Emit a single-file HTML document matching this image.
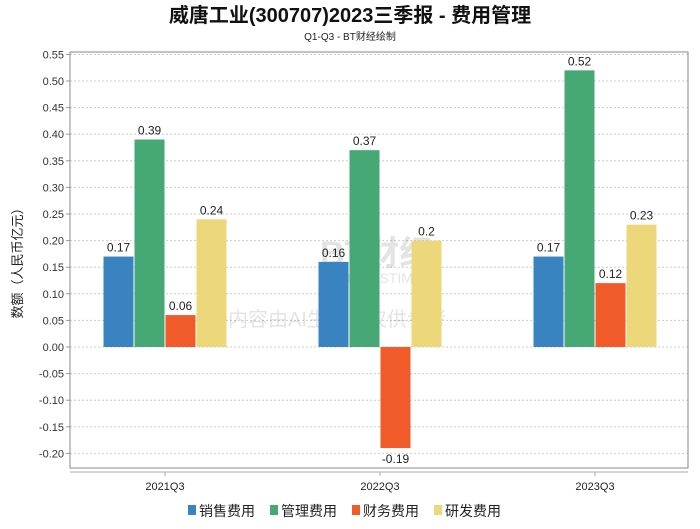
<!DOCTYPE html>
<html><head><meta charset="utf-8"><style>
body{margin:0;background:#fff;width:700px;height:524px;overflow:hidden;font-family:"Liberation Sans","Noto Sans CJK SC",sans-serif}
</style></head><body>
<svg id="c" width="700" height="524" xmlns="http://www.w3.org/2000/svg">
<text x="350" y="22" text-anchor="middle" font-size="20" font-weight="bold" fill="#111">威唐工业(300707)2023三季报 - 费用管理</text>
<text x="350" y="40" text-anchor="middle" font-size="10" fill="#222">Q1-Q3 - BT财经绘制</text>
<g id="grid"></g>
<g opacity="0.13">
<text x="320" y="265" font-size="34" font-weight="bold" fill="#333">BT财经</text>
<text x="318" y="283" font-size="14" fill="#333">BUSINESSTIMES</text>
<text x="228" y="326" font-size="20" fill="#333">内容由AI生成，仅供参考</text>
</g>
<g id="bars"></g>
<text transform="translate(22,260) rotate(-90)" text-anchor="middle" font-size="13" fill="#222">数额（人民币亿元）</text>
<g id="legend"></g>
</svg>
<script>
const categories=["2021Q3","2022Q3","2023Q3"];
const seriesNames=["销售费用","管理费用","财务费用","研发费用"];
const colors=["#3a83c1","#45a875","#f15a29","#edd77b"];
const sales=[0.17,0.16,0.17];
const admin=[0.39,0.37,0.52];
const finance=[0.06,-0.19,0.12];
const rnd=[0.24,0.2,0.23];
const labels=[["0.17","0.16","0.17"],["0.39","0.37","0.52"],["0.06","-0.19","0.12"],["0.24","0.2","0.23"]];
const yTicks=[0.55,0.5,0.45,0.4,0.35,0.3,0.25,0.2,0.15,0.1,0.05,0,-0.05,-0.1,-0.15,-0.2];
const series=[sales,admin,finance,rnd];
const NS="http://www.w3.org/2000/svg";
const L=70,R=688,T=52,B=468;
const y=v=>347-v*532;
const xc=i=>165+i*215;
function mk(tag,attrs,parent,txt){const e=document.createElementNS(NS,tag);for(const k in attrs)e.setAttribute(k,attrs[k]);if(txt!=null)e.textContent=txt;parent.appendChild(e);return e;}
const g=document.getElementById('grid');
yTicks.forEach(t=>{
  const l=mk('line',{x1:L,x2:R,y1:y(t),y2:y(t),stroke:'#ccc','stroke-dasharray':'2,2'},g);
  
  
  mk('line',{x1:L-4,x2:L,y1:y(t),y2:y(t),stroke:'#999'},g);
  const tx=mk('text',{x:L-6,y:y(t)+4,'text-anchor':'end','font-size':11,fill:'#333'},g,t.toFixed(2));
  
  
});
const fr=mk('rect',{x:L,y:T,width:R-L,height:B-T,fill:'none',stroke:'#888'},g);


mk('line',{x1:L,x2:R,y1:472,y2:472,stroke:'#aaa'},g);
categories.forEach((c,i)=>{
  mk('line',{x1:xc(i),x2:xc(i),y1:472,y2:476,stroke:'#aaa'},g);
  const tx=mk('text',{x:xc(i),y:490,'text-anchor':'middle','font-size':11,fill:'#222'},g,c);
  
  
});
const bg=document.getElementById('bars');
const bw=30,gap=1;
series.forEach((s,si)=>{
  s.forEach((v,i)=>{
    const x=xc(i)-2*(bw+gap)+si*(bw+gap)+0.5;
    const y0=Math.min(y(v),y(0)),h=Math.abs(y(v)-y(0));
    const r=mk('rect',{x:x,y:y0,width:bw,height:h,fill:colors[si]},bg);
    
    
    const ly=v>=0?y(v)-5:y(v)+15;
    const t=mk('text',{x:x+bw/2,y:ly,'text-anchor':'middle','font-size':12,fill:'#222'},bg,labels[si][i]);
    
    
  });
});
const lg=document.getElementById('legend');
let lx=188;
seriesNames.forEach((n,i)=>{
  const grp=mk('g',{},lg);
  
  
  mk('rect',{x:lx,y:505,width:8,height:10,fill:colors[i]},grp);
  mk('text',{x:lx+11,y:516,'font-size':14,fill:'#222'},grp,n);
  lx+=82;
});
</script>
</body></html>
